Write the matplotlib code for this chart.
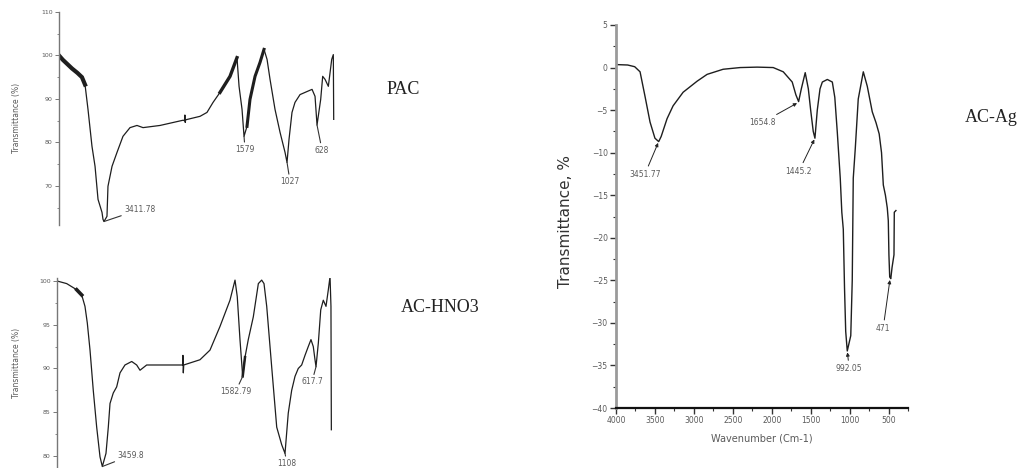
import matplotlib
matplotlib.use("Agg")
import matplotlib.pyplot as plt
import numpy as np
from matplotlib.ticker import MultipleLocator

W, H = 1023, 468

# ---------------- data ----------------
pac_wn = [4000, 3950, 3890, 3830, 3760, 3700, 3660, 3621, 3569, 3529, 3490, 3438, 3425,
          3412, 3373, 3360, 3307, 3242, 3164, 3072, 2981, 2902, 2680, 2379, 2360, 2355,
          2350, 2345, 2157, 2066, 1987, 1896, 1765, 1674, 1647, 1608, 1582, 1543, 1504,
          1438, 1373, 1321, 1281, 1242, 1177, 1111, 1046, 1020, 994, 955, 916, 850, 759,
          693, 654, 628, 580, 554, 523, 480, 436, 415, 410]
pac_t = [100, 99, 98, 97, 96, 95, 93.3, 87.6, 79.1, 74.5, 66.9, 63.9, 62.3,
         61.8, 63, 69.9, 74.5, 77.7, 81.4, 83.4, 83.9, 83.4, 83.9, 85.1, 85.0, 86.3,
         84.6, 85.2, 86, 86.9, 89.2, 91.5, 95.2, 99.5, 92.9, 87.6, 81.4, 83.7, 89.9,
         95.2, 98.4, 101.4, 99.1, 94.5, 87.6, 82.3, 77.7, 75.4, 80.7, 86.9, 89.2, 91, 91.7,
         92.2, 90.6, 84, 89.9, 95.2, 94.5, 92.9, 99.1, 100.2, 85.3]
pac_peaks = ["3411.78", "1579", "1027", "628"]
pac_peak_wn = [3412, 1582, 1020, 628]
pac_peak_t = [61.8, 81.4, 75.4, 84]
pac_ticks = [70, 80, 90, 100, 110]

hno3_wn = [4000, 3875, 3746, 3681, 3639, 3609, 3574, 3532, 3488, 3445, 3415, 3368, 3338,
           3316, 3274, 3230, 3187, 3123, 3036, 2972, 2929, 2843, 2585, 2380, 2375, 2370,
           2365, 2155, 2026, 1897, 1768, 1703, 1674, 1639, 1604, 1574, 1532, 1467, 1402,
           1359, 1329, 1294, 1230, 1165, 1101, 1058, 1016, 972, 929, 887, 843, 800, 758,
           723, 693, 671, 658, 628, 597, 564, 529, 499, 477, 465, 460]
hno3_t = [100, 99.7, 99, 98.4, 97.1, 95.2, 92.1, 87.5, 83.3, 79.9, 78.8, 80.3, 83.3,
          86, 87.2, 87.9, 89.5, 90.4, 90.8, 90.4, 89.8, 90.4, 90.4, 90.4, 91.5, 89.5,
          90.4, 91, 92.1, 94.8, 97.8, 100.1, 98.2, 93.3, 89.1, 91.3, 93.3, 95.9, 99.7,
          100.1, 99.7, 97.1, 90.2, 83.3, 81.3, 80.3, 84.9, 87.5, 89.1, 90, 90.4, 91.5, 92.5,
          93.3, 92.5, 91, 90.2, 92.9, 96.7, 97.8, 97.1, 99, 100.5, 97.1, 83]
hno3_peaks = ["3459.8", "1582.79", "1108", "617.7"]
hno3_peak_wn = [3415, 1604, 1058, 658]
hno3_peak_t = [78.8, 89.1, 80.3, 90.2]
hno3_ticks = [80, 85, 90, 95, 100]

ag_wn = [4000, 3850, 3760, 3691, 3627, 3563, 3500, 3451.77, 3420, 3344, 3267, 3138, 2958,
         2830, 2624, 2405, 2187, 1981, 1852, 1737, 1690, 1654.8, 1620, 1570, 1530, 1500,
         1467, 1445.2, 1415, 1380, 1350, 1286, 1222, 1190, 1158, 1120, 1100, 1081, 1065,
         1050, 1030, 1010, 985, 966, 953, 927, 889, 824, 773, 709, 660, 620, 590, 567,
         540, 516, 503, 495, 485, 471, 455, 430, 426, 405]
ag_t = [0.35, 0.3, 0.1, -0.5, -3.4, -6.4, -8.3, -8.7, -8.1, -6.0, -4.5, -2.9, -1.6,
        -0.8, -0.2, 0.0, 0.05, 0.0, -0.5, -1.7, -3.2, -4.0, -2.5, -0.6, -2.5, -5.0,
        -7.5, -8.3, -5.0, -2.5, -1.7, -1.4, -1.7, -3.5, -7.6, -13, -17, -19, -26,
        -31, -33.3, -32.5, -31.5, -25, -13, -9.5, -3.7, -0.5, -2.2, -5.2, -6.5, -7.8, -10, -13.8,
        -15, -16.5, -18, -22, -24.6, -24.8, -23.5, -22, -17, -16.8]
ag_peaks = ["3451.77", "1654.8", "1445.2", "992.05", "471"]
ag_peak_wn = [3451.77, 1659, 1445.2, 1030, 480]
ag_peak_t = [-8.7, -4.1, -8.3, -33.3, -24.8]
ag_xticks = [4000, 3500, 3000, 2500, 2000, 1500, 1000, 500]
ag_yticks = [5, 0, -5, -10, -15, -20, -25, -30, -35, -40]

# ---------------- figure ----------------
fig = plt.figure(figsize=(W / 100, H / 100), dpi=100)


def rect(l, t, r, b):
    return [l / W, 1 - b / H, (r - l) / W, (b - t) / H]


LINE = "#1e1e1e"
GRAY = "#5a5a5a"


def left_panel(r, wn, t, xlim, ylim, ticks, minor, noisy, peaks, pwn, pt, offs):
    ax = fig.add_axes(r)
    wn = np.asarray(wn, float)
    t = np.asarray(t, float)
    ax.plot(wn, t, color=LINE, lw=0.9)
    for lo, hi, lw in noisy:
        m = (wn >= lo) & (wn <= hi)
        ax.plot(wn[m], t[m], color=LINE, lw=lw, solid_joinstyle="miter")
    ax.set_xlim(*xlim)
    ax.set_ylim(*ylim)
    for s in ("top", "right", "bottom"):
        ax.spines[s].set_visible(False)
    ax.spines["left"].set_color("#777777")
    ax.spines["left"].set_linewidth(1.0)
    ax.set_xticks([])
    ax.set_yticks(ticks)
    ax.yaxis.set_minor_locator(MultipleLocator(minor))
    ax.tick_params(axis="y", which="major", length=3, width=0.7, colors="#777777",
                   labelsize=4.5, labelcolor=GRAY, pad=1.5)
    ax.tick_params(axis="y", which="minor", length=1.5, width=0.6, colors="#777777")
    ax.patch.set_alpha(0)
    for lab, x, y, (dx, dy, ha) in zip(peaks, pwn, pt, offs):
        ax.annotate(lab, xy=(x, y), xytext=(dx, dy), textcoords="offset pixels",
                    ha=ha, va="center", fontsize=5.5, color=GRAY,
                    arrowprops=dict(arrowstyle="-", color="#333333", lw=0.8,
                                    shrinkA=0, shrinkB=0),
                    annotation_clip=False)
    return ax


left_panel(rect(59, 12, 336, 225), pac_wn, pac_t, (4000, 380), (61, 110),
           pac_ticks, 5, [(3640, 4000, 3.0), (1650, 1900, 2.4), (1320, 1560, 2.2)],
           pac_peaks, pac_peak_wn, pac_peak_t,
           [(20, 12, "left"), (1, -13, "center"), (3, -19, "center"), (5, -25, "center")])

left_panel(rect(57, 278, 336, 468), hno3_wn, hno3_t, (4000, 400), (78.63, 100.34),
           hno3_ticks, 2.5, [(3640, 3860, 2.6), (1570, 1610, 1.8)],
           hno3_peaks, hno3_peak_wn, hno3_peak_t,
           [(15, 11, "left"), (-7, -15, "center"), (2, -10, "center"), (-4, -15, "center")])

fig.text(17 / W, 1 - 118 / H, "Transmittance (%)", rotation=90, ha="center",
         va="center", fontsize=5.5, color=GRAY)
fig.text(17 / W, 1 - 363 / H, "Transmittance (%)", rotation=90, ha="center",
         va="center", fontsize=5.5, color=GRAY)

serif = ["Liberation Serif", "DejaVu Serif"]
fig.text(403 / W, 1 - 90 / H, "PAC", ha="center", va="center", fontsize=13,
         family=serif, color="#222222")
fig.text(440 / W, 1 - 308 / H, "AC-HNO3", ha="center", va="center", fontsize=13,
         family=serif, color="#222222")
fig.text(991 / W, 1 - 118 / H, "AC-Ag", ha="center", va="center", fontsize=13,
         family=serif, color="#222222")

# right panel
ax = fig.add_axes(rect(616, 25, 908, 408))
ax.plot(ag_wn, ag_t, color=LINE, lw=1.0)
ax.set_xlim(4000, 250)
ax.set_ylim(-40, 5)
ax.spines["top"].set_visible(False)
ax.spines["right"].set_visible(False)
ax.spines["left"].set_color("#9a9a9a")
ax.spines["left"].set_linewidth(2.0)
ax.spines["bottom"].set_color("#111111")
ax.spines["bottom"].set_linewidth(1.6)
ax.set_xticks(ag_xticks)
ax.set_yticks(ag_yticks)
ax.xaxis.set_minor_locator(MultipleLocator(250))
ax.yaxis.set_minor_locator(MultipleLocator(2.5))
ax.tick_params(which="major", length=4, width=1.0, colors="#333333",
               labelsize=5.5, labelcolor=GRAY, pad=2)
ax.tick_params(which="minor", length=2, width=0.8, colors="#333333")
ax.set_xlabel("Wavenumber (Cm-1)", fontsize=7, color=GRAY, labelpad=6)
ax.patch.set_alpha(0)
fig.text(565 / W, 1 - 222 / H, "Transmittance, %", rotation=90, ha="center",
         va="center", fontsize=11, color="#333333")
ag_offs = [(-14, -33), (-36, -20), (-16, -33), (2, -18), (-7, -50)]
for lab, x, y, (dx, dy) in zip(ag_peaks, ag_peak_wn, ag_peak_t, ag_offs):
    ax.annotate(lab, xy=(x, y), xytext=(dx, dy), textcoords="offset pixels",
                ha="center", va="center", fontsize=5.5, color=GRAY,
                arrowprops=dict(arrowstyle="-|>", color="#222222", lw=0.7,
                                mutation_scale=5, shrinkA=1, shrinkB=1))

fig.savefig("out.png", dpi=100)
